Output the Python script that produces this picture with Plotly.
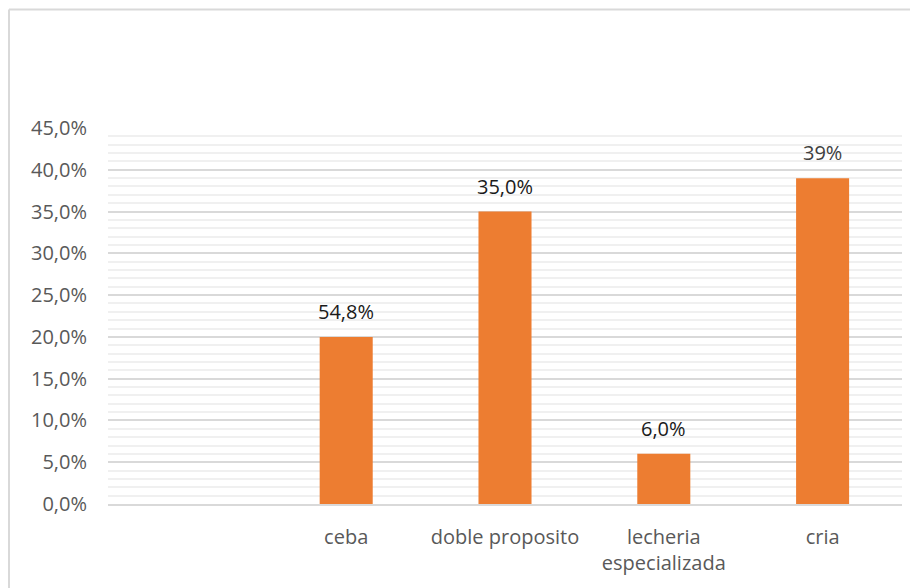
import plotly.graph_objects as go

categories = ["", "ceba", "doble proposito", "lecheria<br>especializada", "cria"]
values = [None, 0.20, 0.35, 0.06, 0.39]
labels = ["", "54,8%", "35,0%", "6,0%", "39%"]
label_colors = ["#000000", "#1a1a1a", "#1a1a1a", "#1a1a1a", "#404040"]

positions = list(range(len(categories)))

FONT = "Open Sans"
FS = 20

fig = go.Figure()
fig.add_trace(go.Bar(
    x=positions,
    y=values,
    marker=dict(color="#ED7D31", line=dict(width=0)),
    hoverinfo="skip",
))

for i, (v, t) in enumerate(zip(values, labels)):
    if v is None:
        continue
    fig.add_annotation(
        x=positions[i], y=v, text=t, showarrow=False,
        yanchor="bottom", yshift=10,
        font=dict(family=FONT, size=FS, color=label_colors[i]),
    )

W0, H0 = 918, 588
OFF = 8  # page body offset
ml, mr, mt, mb = 108 - OFF, 918 - 902 + OFF, 128 - OFF, 588 - 504 + OFF
pw = W0 - ml - mr
ph = H0 - mt - mb
bx = (9 - OFF - ml) / pw
by = (H0 - mb - (9.5 - OFF)) / ph

fig.add_shape(type="line", xref="paper", yref="paper",
              x0=bx, x1=1.2, y0=by, y1=by,
              line=dict(color="#D9D9D9", width=2), layer="above")
fig.add_shape(type="line", xref="paper", yref="paper",
              x0=bx, x1=bx, y0=by, y1=-0.5,
              line=dict(color="#D9D9D9", width=2), layer="above")

fig.update_layout(
    width=W0, height=H0,
    margin=dict(l=ml, r=mr, t=mt, b=mb),
    paper_bgcolor="white", plot_bgcolor="white",
    separators=",.",
    bargap=0.666,
    showlegend=False,
    font=dict(family=FONT, size=FS, color="#595959"),
    xaxis=dict(
        range=[-0.5, 4.5],
        tickmode="array", tickvals=positions, ticktext=categories,
        showgrid=False, zeroline=False,
        showline=True, linecolor="#D9D9D9", linewidth=1.5,
        ticks="", ticklabelstandoff=14,
        tickfont=dict(family=FONT, size=FS, color="#595959"),
        fixedrange=True,
    ),
    yaxis=dict(
        range=[0, 0.45], dtick=0.05, tick0=0,
        tickformat=".1%",
        showgrid=True, gridcolor="#D9D9D9", gridwidth=1.5,
        minor=dict(dtick=0.01, showgrid=True, gridcolor="#F0F0F0", gridwidth=1.5),
        zeroline=False, showline=False,
        ticks="", ticklabelstandoff=20,
        tickfont=dict(family=FONT, size=FS, color="#595959"),
        fixedrange=True,
    ),
)

fig.write_html("out.html")
